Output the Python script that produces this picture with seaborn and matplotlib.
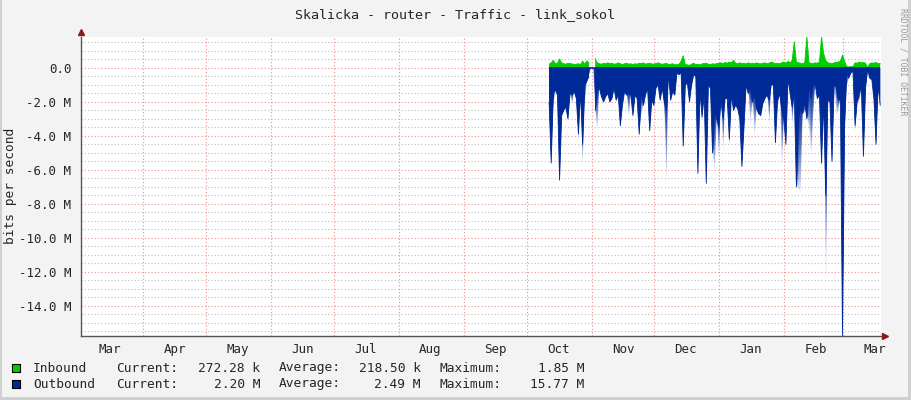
import numpy as np
import pandas as pd
import matplotlib
matplotlib.use("Agg")
import matplotlib.pyplot as plt
import matplotlib.dates as mdates
from matplotlib.ticker import MultipleLocator, FuncFormatter, NullFormatter
from matplotlib.patches import Rectangle
import seaborn as sns

nan = np.nan

# ---------------- data (values in Mbit/s, one sample per day) ----------------
start = "2014-10-11 18:00"

inbound_m = [
    0.22, 0.30, 0.45, 0.25, 0.28, 0.52, 0.30, 0.25, 0.22, 0.28,
    0.26, 0.24, 0.20, 0.22, 0.25, 0.20, 0.40, 0.22, 0.42, 0.30,
    nan, nan,
    0.55, 0.30, 0.25, 0.22, 0.28, 0.25, 0.30, 0.26, 0.28, 0.22, 0.24, 0.30, 0.25, 0.20, 0.25, 0.28, 0.22, 0.25,
    0.20, 0.25, 0.22, 0.28, 0.25, 0.30, 0.22, 0.26, 0.28, 0.24,
    0.22, 0.26, 0.30, 0.25, 0.22, 0.24, 0.28, 0.20, 0.22, 0.25,
    0.18, 0.20, 0.22, 0.40, 0.72, 0.20, 0.18, 0.15, 0.22, 0.28,
    0.20, 0.22, 0.18, 0.24, 0.26, 0.28, 0.22, 0.20, 0.25, 0.22,
    0.26, 0.28, 0.30, 0.25, 0.32, 0.28, 0.35, 0.30, 0.45, 0.28,
    0.25, 0.30, 0.26, 0.28, 0.24, 0.30, 0.26, 0.28, 0.25, 0.30,
    0.26, 0.24, 0.28, 0.30, 0.25, 0.28, 0.35, 0.30, 0.26, 0.28,
    0.25, 0.30, 0.35, 0.28, 0.40, 0.30, 0.45, 1.55, 0.35, 0.30,
    0.28, 0.26, 0.30, 1.85, 0.30, 0.28, 0.26, 0.30, 0.28, 0.35,
    1.82, 0.85, 0.45, 0.30, 0.28, 0.26, 0.30, 0.32, 0.35, 0.40,
    0.76, 0.40, 0.08, 0.06, 0.08, 0.07, 0.30, 0.28, 0.35, 0.30,
    0.32, 0.28, 0.02, 0.25, 0.30, 0.28, 0.32, 0.26, 0.27,
]

outbound_m = [
    2.0, 5.6, 1.5, 1.3, 1.6, 6.6, 2.8, 2.5, 2.3, 3.0,
    1.5, 1.6, 1.4, 1.8, 3.9, 1.4, 4.5, 1.0, 0.8, 0.5,
    nan, nan, 2.5, 1.3, 1.2, 1.7, 2.0, 1.7, 1.5, 2.0,
    1.8, 1.2, 1.9, 1.6, 3.4, 2.2, 1.4, 1.6, 1.5, 1.6,
    2.8, 1.6, 1.8, 3.9, 1.4, 2.2, 1.6, 1.2, 3.7, 1.9,
    2.2, 1.2, 1.0, 1.9, 1.2, 2.0, 2.5, 0.4, 1.9, 1.4,
    1.6, 0.3, 0.4, 0.3, 4.6, 1.0, 0.9, 2.0, 1.0, 0.4,
    0.5, 6.2, 1.4, 2.9, 1.6, 6.8, 1.0, 1.2, 5.0, 2.5,
    3.0, 3.5, 1.9, 3.0, 1.8, 1.8, 4.2, 1.6, 2.5, 2.2,
    2.4, 3.0, 5.8, 3.5, 1.0, 1.5, 1.1, 2.0, 1.5, 2.4,
    2.7, 2.8, 2.1, 1.8, 1.6, 1.9, 1.0, 1.0, 4.4, 2.0,
    1.5, 2.4, 3.0, 4.5, 0.6, 1.5, 2.3, 1.5, 7.0, 3.0,
    2.4, 2.7, 2.0, 3.0, 1.0, 1.8, 1.0, 1.0, 1.8, 1.6,
    5.6, 2.0, 7.5, 1.9, 2.0, 5.5, 1.0, 1.1, 1.9, 1.8,
    15.77, 3.5, 0.3, 0.6, 0.3, 0.2, 3.4, 2.0, 1.4, 1.2,
    5.2, 1.2, 0.1, 0.6, 0.7, 1.8, 4.5, 1.0, 2.2,
]

# faded outbound peaks (short bursts) that reach deeper than the daily value
peak_dates = [
    "2014-10-13", "2014-10-22", "2014-10-27", "2014-10-28", "2014-11-03",
    "2014-11-18", "2014-11-24", "2014-12-05", "2014-12-06", "2014-12-29",
    "2014-12-31", "2015-01-02", "2015-01-05", "2015-01-15", "2015-01-17",
    "2015-01-24", "2015-01-30", "2015-02-04", "2015-02-07", "2015-02-08",
    "2015-02-10", "2015-02-12", "2015-02-13", "2015-02-14", "2015-02-20",
    "2015-02-25", "2015-02-26", "2015-03-02", "2015-03-06", "2015-03-08",
    "2015-03-15",
]
peak_m = [
    2.6, 2.2, 5.9, 2.4, 3.9,
    3.0, 2.8, 2.9, 7.2, 6.3,
    5.6, 5.2, 4.8, 3.5, 4.3,
    3.5, 6.2, 3.5, 7.2, 7.4,
    2.6, 3.8, 5.4, 2.9, 14.2,
    2.9, 2.5, 1.1, 3.9, 2.0,
    2.5,
]

legend_names = ["Inbound", "Outbound"]
legend_current = ["272.28 k", "2.20 M"]
legend_average = ["218.50 k", "2.49 M"]
legend_maximum = ["1.85 M", "15.77 M"]

title = "Skalicka - router - Traffic - link_sokol"
y_label = "bits per second"
watermark = "RRDTOOL / TOBI OETIKER"

x_start = "2014-03-02 09:00"
x_end = "2015-03-19 03:00"
y_min, y_max = -15.77, 1.85

GREEN = "#00CC00"
BLUE = "#002A97"

# ---------------- figure ----------------
sns.set_style("white")
plt.rcParams["font.family"] = ["DejaVu Sans Mono", "DejaVu Sans"]

W, H = 911, 400
fig = plt.figure(figsize=(W / 100, H / 100), dpi=100, facecolor="#F3F3F3")
ax = fig.add_axes([81 / W, 1 - 336 / H, 800 / W, 299.5 / H])
ax.set_facecolor("white")

dates = pd.date_range(start, periods=len(outbound_m), freq="D")
out_arr = np.array(outbound_m, dtype=float)
in_arr = np.array(inbound_m, dtype=float)

peak_full = out_arr.copy()
day_keys = dates.normalize()
for d, v in zip(pd.to_datetime(peak_dates), peak_m):
    idx = np.where(day_keys == d)[0]
    if len(idx):
        i = idx[0]
        peak_full[i] = max(np.nan_to_num(peak_full[i]), v)
peak0 = np.nan_to_num(peak_full, nan=0.0)
avg0 = np.nan_to_num(out_arr, nan=0.0)

segment = np.cumsum(np.isnan(out_arr))
df = pd.DataFrame({"date": dates, "inbound": in_arr, "outbound": -out_arr, "seg": segment})

ax.set_xlim(pd.Timestamp(x_start), pd.Timestamp(x_end))
ax.set_ylim(y_min, y_max)

# gradient for the faded peaks, clipped to the peak envelope
xs = mdates.date2num(dates)
nx, ny = 1600, 900
xg = np.linspace(xs[0], xs[-1], nx)
dg = np.linspace(0, -y_min, ny)
a_i = np.interp(xg, xs, avg0)
p_i = np.interp(xg, xs, peak0)
D = dg[:, None]
span = np.maximum(p_i - a_i, 1e-6)[None, :]
t = np.clip((D - a_i[None, :]) / span, 0, 1)
alpha = np.where(D <= a_i[None, :], 1.0,
                 np.where(D <= p_i[None, :], 1.0 - 0.92 * t ** 1.4, 0.0))
rgb = np.array(matplotlib.colors.to_rgb("#1A3FA8"))
img = np.zeros((ny, nx, 4))
img[..., :3] = rgb
img[..., 3] = alpha
env = ax.fill_between(dates, 0, -peak0, color="none", lw=0, zorder=2)
im = ax.imshow(img, extent=[xg[0], xg[-1], y_min, 0], origin="upper",
               aspect="auto", interpolation="bilinear", zorder=2)
im.set_clip_path(env.get_paths()[0], ax.transData)

# main areas
ax.fill_between(dates, 0, -out_arr, color=BLUE, lw=0, zorder=3)
ax.fill_between(dates, 0, in_arr, color=GREEN, lw=0, zorder=3)
sns.lineplot(data=df, x="date", y="outbound", units="seg", estimator=None,
             color=BLUE, lw=0.6, ax=ax, zorder=3)
sns.lineplot(data=df, x="date", y="inbound", units="seg", estimator=None,
             color=GREEN, lw=0.6, ax=ax, zorder=3)
ax.hlines(0, dates[0], dates[-1], color=BLUE, lw=1.2, zorder=4)

# axes / grid
ax.set_xlabel("")
ax.set_ylabel("")
ax.set_axisbelow(True)
ax.xaxis.set_major_locator(mdates.MonthLocator(bymonthday=1))
ax.xaxis.set_major_formatter(NullFormatter())
ax.xaxis.set_minor_locator(mdates.MonthLocator(bymonthday=16))
ax.xaxis.set_minor_formatter(mdates.DateFormatter("%b"))
ax.yaxis.set_major_locator(MultipleLocator(2))
ax.yaxis.set_minor_locator(MultipleLocator(0.5))


def yfmt(v, pos):
    if abs(v) < 1e-9:
        return "0.0"
    return f"{v:.1f} M"


ax.yaxis.set_major_formatter(FuncFormatter(yfmt))
ax.yaxis.set_minor_formatter(NullFormatter())

ax.grid(True, which="minor", axis="y", color="#BEBEBE", ls=(0, (1, 2)), lw=0.8)
ax.grid(True, which="major", axis="both", color="#F08C8C", ls=(0, (1, 2)), lw=0.8)
ax.tick_params(axis="x", which="major", length=3, color="#F08C8C", width=0.8)
ax.tick_params(axis="x", which="minor", length=0, pad=5, labelsize=9)
ax.tick_params(axis="y", which="both", length=0, pad=7, labelsize=9)

for s in ["top", "right"]:
    ax.spines[s].set_visible(False)
for s in ["left", "bottom"]:
    ax.spines[s].set_color("#555555")
    ax.spines[s].set_linewidth(1.0)

ax.plot([0], [1.0 + 5 / 299.5], marker="^", ms=5, color="#8B1A1A",
        transform=ax.transAxes, clip_on=False, zorder=6)
ax.plot([1.0 + 4 / 800], [0], marker=">", ms=5, color="#8B1A1A",
        transform=ax.transAxes, clip_on=False, zorder=6)

# texts
fig.text(455 / W, 1 - 14.5 / H, title, ha="center", va="center", fontsize=9.6)
fig.text(11 / W, 1 - 186 / H, y_label, ha="center", va="center", rotation=90, fontsize=9.3)
fig.text(903 / W, 1 - 62 / H, watermark, ha="center", va="center", rotation=270,
         fontsize=5.9, color="#9A9A9A")

# legend
colors = [GREEN, BLUE]
rows_y = [368, 384]
for k in range(2):
    yy = 1 - rows_y[k] / H
    fig.patches.append(Rectangle((12 / W, 1 - (rows_y[k] + 4) / H), 8 / W, 8 / H,
                                 transform=fig.transFigure, facecolor=colors[k],
                                 edgecolor="black", lw=0.8))
    fig.text(33 / W, yy, legend_names[k], ha="left", va="center", fontsize=9.3)
    fig.text(116 / W, yy, "Current:", ha="left", va="center", fontsize=9.3)
    fig.text(260 / W, yy, legend_current[k], ha="right", va="center", fontsize=9.3)
    fig.text(279 / W, yy, "Average:", ha="left", va="center", fontsize=9.3)
    fig.text(421 / W, yy, legend_average[k], ha="right", va="center", fontsize=9.3)
    fig.text(440 / W, yy, "Maximum:", ha="left", va="center", fontsize=9.3)
    fig.text(584 / W, yy, legend_maximum[k], ha="right", va="center", fontsize=9.3)

# frame
for (x0, y0, w, h) in [(0, 0, 2, H), (W - 3, 0, 3, H), (0, H - 3, W, 3)]:
    fig.patches.append(Rectangle((x0 / W, 1 - (y0 + h) / H), w / W, h / H,
                                 transform=fig.transFigure, facecolor="#CFCFCF",
                                 edgecolor="none"))

fig.savefig("out.png", dpi=100, facecolor=fig.get_facecolor())
